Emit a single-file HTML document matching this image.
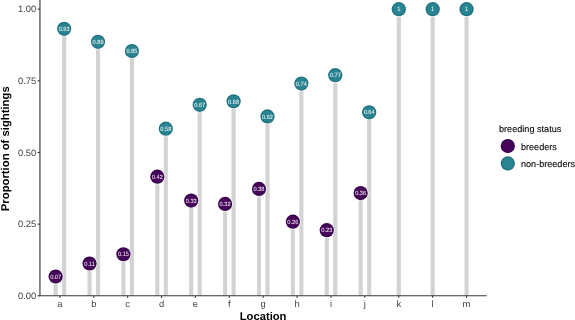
<!DOCTYPE html>
<html lang="en"><head><meta charset="utf-8"><title>Proportion of sightings by location</title>
<style>html,body{margin:0;padding:0;background:#fff}svg{display:block}text{font-family:"Liberation Sans",Arial,sans-serif;text-rendering:geometricPrecision}</style></head><body>
<svg width="575" height="320" viewBox="0 0 575 320">
<rect width="575" height="320" fill="#ffffff"/>
<defs><radialGradient id="gp"><stop offset="0" stop-color="#48065a"/><stop offset="0.72" stop-color="#46045a"/><stop offset="0.9" stop-color="#36004a"/><stop offset="1" stop-color="#36004a"/></radialGradient><radialGradient id="gt"><stop offset="0" stop-color="#2b8593"/><stop offset="0.72" stop-color="#2a8391"/><stop offset="0.9" stop-color="#1f7280"/><stop offset="1" stop-color="#1f7280"/></radialGradient></defs>
<g fill="#d3d3d3">
<rect x="53.60" y="276.52" width="4.1" height="19.23"/>
<rect x="62.10" y="28.78" width="4.1" height="266.98"/>
<rect x="87.49" y="263.52" width="4.1" height="32.23"/>
<rect x="95.99" y="41.78" width="4.1" height="253.97"/>
<rect x="121.38" y="254.25" width="4.1" height="41.50"/>
<rect x="129.88" y="51.05" width="4.1" height="244.70"/>
<rect x="155.27" y="176.65" width="4.1" height="119.10"/>
<rect x="163.77" y="128.65" width="4.1" height="167.10"/>
<rect x="189.16" y="200.53" width="4.1" height="95.22"/>
<rect x="197.66" y="104.78" width="4.1" height="190.97"/>
<rect x="223.05" y="203.95" width="4.1" height="91.80"/>
<rect x="231.55" y="101.35" width="4.1" height="194.40"/>
<rect x="256.94" y="188.90" width="4.1" height="106.85"/>
<rect x="265.44" y="116.40" width="4.1" height="179.35"/>
<rect x="290.83" y="221.70" width="4.1" height="74.05"/>
<rect x="299.33" y="83.60" width="4.1" height="212.15"/>
<rect x="324.72" y="230.15" width="4.1" height="65.60"/>
<rect x="333.22" y="75.15" width="4.1" height="220.60"/>
<rect x="358.61" y="193.03" width="4.1" height="102.72"/>
<rect x="367.11" y="112.28" width="4.1" height="183.47"/>
<rect x="396.75" y="9.20" width="4.1" height="286.55"/>
<rect x="430.64" y="9.20" width="4.1" height="286.55"/>
<rect x="464.53" y="9.20" width="4.1" height="286.55"/>
</g>
<g stroke="#ffffff" stroke-width="1.4" paint-order="stroke fill">
<circle cx="55.65" cy="276.52" r="7.1" fill="url(#gp)"/>
<circle cx="64.15" cy="28.78" r="7.1" fill="url(#gt)"/>
<circle cx="89.54" cy="263.52" r="7.1" fill="url(#gp)"/>
<circle cx="98.04" cy="41.78" r="7.1" fill="url(#gt)"/>
<circle cx="123.43" cy="254.25" r="7.1" fill="url(#gp)"/>
<circle cx="131.93" cy="51.05" r="7.1" fill="url(#gt)"/>
<circle cx="157.32" cy="176.65" r="7.1" fill="url(#gp)"/>
<circle cx="165.82" cy="128.65" r="7.1" fill="url(#gt)"/>
<circle cx="191.21" cy="200.53" r="7.1" fill="url(#gp)"/>
<circle cx="199.71" cy="104.78" r="7.1" fill="url(#gt)"/>
<circle cx="225.10" cy="203.95" r="7.1" fill="url(#gp)"/>
<circle cx="233.60" cy="101.35" r="7.1" fill="url(#gt)"/>
<circle cx="258.99" cy="188.90" r="7.1" fill="url(#gp)"/>
<circle cx="267.49" cy="116.40" r="7.1" fill="url(#gt)"/>
<circle cx="292.88" cy="221.70" r="7.1" fill="url(#gp)"/>
<circle cx="301.38" cy="83.60" r="7.1" fill="url(#gt)"/>
<circle cx="326.77" cy="230.15" r="7.1" fill="url(#gp)"/>
<circle cx="335.27" cy="75.15" r="7.1" fill="url(#gt)"/>
<circle cx="360.66" cy="193.03" r="7.1" fill="url(#gp)"/>
<circle cx="369.16" cy="112.28" r="7.1" fill="url(#gt)"/>
<circle cx="398.80" cy="9.20" r="7.1" fill="url(#gt)"/>
<circle cx="432.69" cy="9.20" r="7.1" fill="url(#gt)"/>
<circle cx="466.58" cy="9.20" r="7.1" fill="url(#gt)"/>
</g>
<g fill="#ffffff" stroke="#ffffff" stroke-width="0.06" font-size="6.1" text-anchor="middle" opacity="0.9">
<text transform="translate(55.65,278.72) scale(0.93,1)">0.07</text>
<text transform="translate(64.15,30.98) scale(0.93,1)">0.93</text>
<text transform="translate(89.54,265.72) scale(0.93,1)">0.11</text>
<text transform="translate(98.04,43.98) scale(0.93,1)">0.89</text>
<text transform="translate(123.43,256.45) scale(0.93,1)">0.15</text>
<text transform="translate(131.93,53.25) scale(0.93,1)">0.85</text>
<text transform="translate(157.32,178.85) scale(0.93,1)">0.42</text>
<text transform="translate(165.82,130.85) scale(0.93,1)">0.58</text>
<text transform="translate(191.21,202.72) scale(0.93,1)">0.33</text>
<text transform="translate(199.71,106.98) scale(0.93,1)">0.67</text>
<text transform="translate(225.10,206.15) scale(0.93,1)">0.32</text>
<text transform="translate(233.60,103.55) scale(0.93,1)">0.68</text>
<text transform="translate(258.99,191.10) scale(0.93,1)">0.38</text>
<text transform="translate(267.49,118.60) scale(0.93,1)">0.62</text>
<text transform="translate(292.88,223.90) scale(0.93,1)">0.26</text>
<text transform="translate(301.38,85.80) scale(0.93,1)">0.74</text>
<text transform="translate(326.77,232.35) scale(0.93,1)">0.23</text>
<text transform="translate(335.27,77.35) scale(0.93,1)">0.77</text>
<text transform="translate(360.66,195.22) scale(0.93,1)">0.36</text>
<text transform="translate(369.16,114.48) scale(0.93,1)">0.64</text>
<text transform="translate(398.80,11.40) scale(0.93,1)">1</text>
<text transform="translate(432.69,11.40) scale(0.93,1)">1</text>
<text transform="translate(466.58,11.40) scale(0.93,1)">1</text>
</g>
<g stroke="#383838" stroke-width="1.15" fill="none">
<line x1="39.95" y1="0" x2="39.95" y2="296.05"/>
<line x1="39.4" y1="295.75" x2="486.75" y2="295.75"/>
<line x1="37.6" y1="295.80" x2="39.95" y2="295.80"/>
<line x1="37.6" y1="224.14" x2="39.95" y2="224.14"/>
<line x1="37.6" y1="152.48" x2="39.95" y2="152.48"/>
<line x1="37.6" y1="80.81" x2="39.95" y2="80.81"/>
<line x1="37.6" y1="9.15" x2="39.95" y2="9.15"/>
<line x1="59.85" y1="295.75" x2="59.85" y2="297.85"/>
<line x1="93.74" y1="295.75" x2="93.74" y2="297.85"/>
<line x1="127.63" y1="295.75" x2="127.63" y2="297.85"/>
<line x1="161.52" y1="295.75" x2="161.52" y2="297.85"/>
<line x1="195.41" y1="295.75" x2="195.41" y2="297.85"/>
<line x1="229.30" y1="295.75" x2="229.30" y2="297.85"/>
<line x1="263.19" y1="295.75" x2="263.19" y2="297.85"/>
<line x1="297.08" y1="295.75" x2="297.08" y2="297.85"/>
<line x1="330.97" y1="295.75" x2="330.97" y2="297.85"/>
<line x1="364.86" y1="295.75" x2="364.86" y2="297.85"/>
<line x1="398.75" y1="295.75" x2="398.75" y2="297.85"/>
<line x1="432.64" y1="295.75" x2="432.64" y2="297.85"/>
<line x1="466.53" y1="295.75" x2="466.53" y2="297.85"/>
</g>
<g fill="#424242" font-size="9.4" text-anchor="end">
<text x="36.2" y="298.95">0.00</text>
<text x="36.2" y="227.29">0.25</text>
<text x="36.2" y="155.63">0.50</text>
<text x="36.2" y="83.96">0.75</text>
<text x="36.2" y="12.30">1.00</text>
</g>
<g fill="#424242" font-size="9.4" text-anchor="middle">
<text x="59.85" y="306.5">a</text>
<text x="93.74" y="306.5">b</text>
<text x="127.63" y="306.5">c</text>
<text x="161.52" y="306.5">d</text>
<text x="195.41" y="306.5">e</text>
<text x="229.30" y="306.5">f</text>
<text x="263.19" y="306.5">g</text>
<text x="297.08" y="306.5">h</text>
<text x="330.97" y="306.5">i</text>
<text x="364.86" y="306.5">j</text>
<text x="398.75" y="306.5">k</text>
<text x="432.64" y="306.5">l</text>
<text x="466.53" y="306.5">m</text>
</g>
<text x="263.1" y="319.5" font-size="11.22" font-weight="bold" text-anchor="middle" fill="#000">Location</text>
<text transform="translate(9.2,148.75) rotate(-90)" font-size="11.3" font-weight="bold" text-anchor="middle" fill="#000">Proportion of sightings</text>
<text x="499" y="131.9" font-size="9.12" fill="#000" stroke="#000" stroke-width="0.1">breeding status</text>
<circle cx="507.8" cy="146" r="7.1" fill="url(#gp)"/>
<circle cx="507.8" cy="163.4" r="7.1" fill="url(#gt)"/>
<text x="521" y="149.6" font-size="9.08" fill="#000" stroke="#000" stroke-width="0.1">breeders</text>
<text x="521" y="166.6" font-size="9.08" fill="#000" stroke="#000" stroke-width="0.1">non-breeders</text>
</svg></body></html>
